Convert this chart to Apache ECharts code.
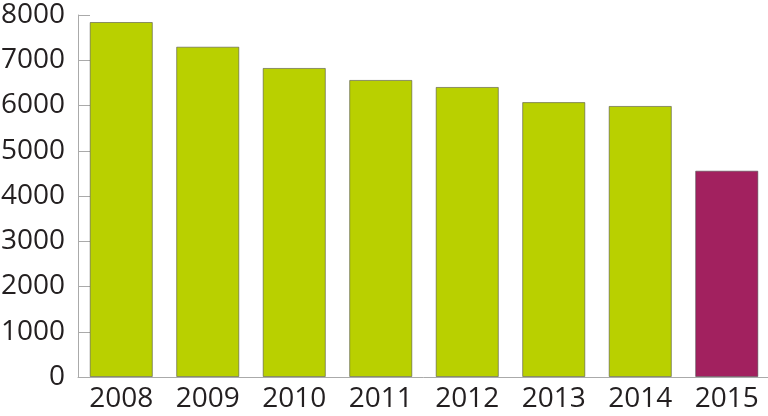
<!DOCTYPE html>
<html><head><meta charset="utf-8">
<script src="https://cdn.jsdelivr.net/npm/echarts@6/dist/echarts.min.js"></script>
<style>html,body{margin:0;padding:0;background:#fff}#c{width:768px;height:416px}</style>
</head><body><div id="c"></div>
<script>
const categories = ['2008','2009','2010','2011','2012','2013','2014','2015'];
const values = [7845, 7300, 6830, 6565, 6410, 6075, 5990, 4560];
const colors = ['#b9d000','#b9d000','#b9d000','#b9d000','#b9d000','#b9d000','#b9d000','#a2215f'];
const yTicks = [0,1000,2000,3000,4000,5000,6000,7000,8000];

const chart = echarts.init(document.getElementById('c'));
chart.setOption({
  animation: false,
  grid: {left: 78, right: -2, top: 15, bottom: 39, outerBoundsMode: 'none', containLabel: false},
  xAxis: {
    type: 'category', data: categories,
    axisLine: {lineStyle: {color: '#aaaaaa', width: 1}},
    axisTick: {inside: true, length: 9, lineStyle: {color: '#aaaaaa'}},
    axisLabel: {interval: 0, hideOverlap: false, color: '#231f20', fontSize: 28, fontFamily: 'Open Sans', margin: 8}
  },
  yAxis: {
    type: 'value', min: 0, max: 8000, interval: 1000,
    axisLine: {show: true, lineStyle: {color: '#aaaaaa', width: 1}},
    axisTick: {show: true, inside: true, length: 12, lineStyle: {color: '#aaaaaa'}},
    splitLine: {show: false},
    axisLabel: {color: '#231f20', fontSize: 28, fontFamily: 'Open Sans', margin: 13,
      formatter: v => yTicks.includes(v) ? String(v) : ''}
  },
  series: [{
    type: 'bar', barWidth: '73%',
    data: values.map((v, i) => ({value: v, itemStyle: {color: colors[i]}})),
    itemStyle: {borderColor: 'rgba(70,70,70,0.55)', borderWidth: 1}
  }]
});
</script></body></html>
